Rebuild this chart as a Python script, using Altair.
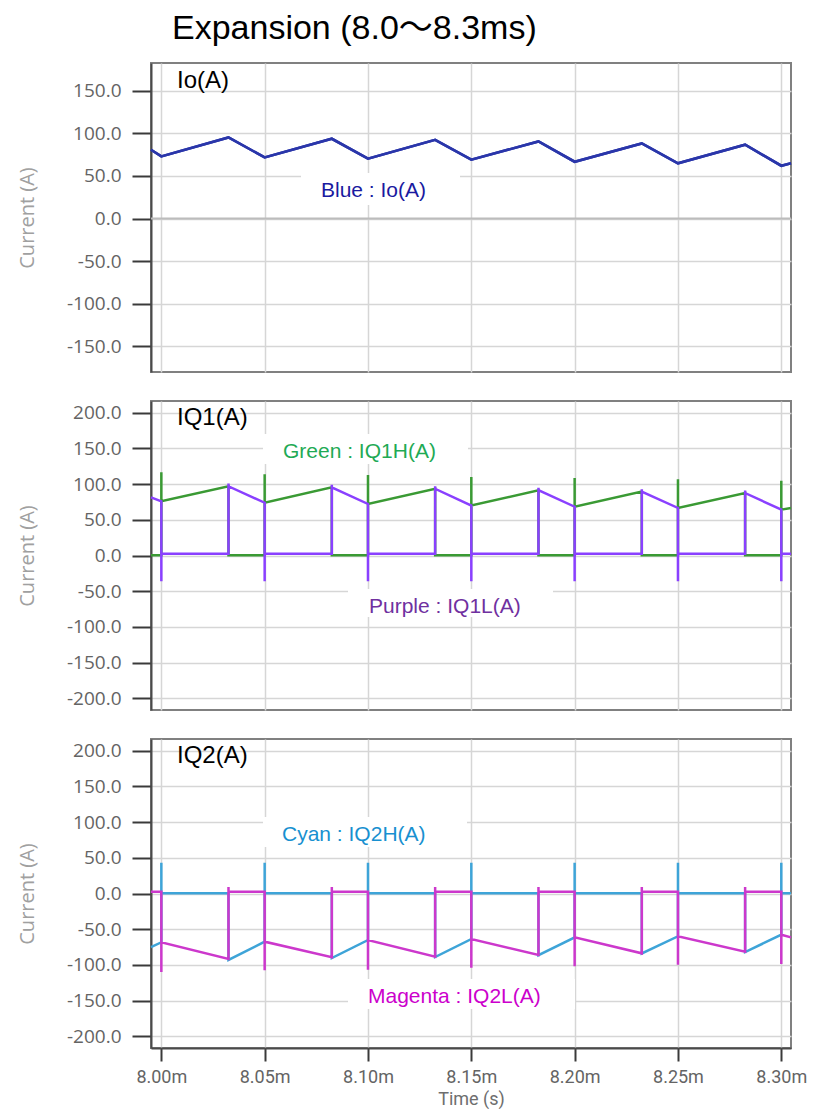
import altair as alt
import pandas as pd

# ---------------- data ----------------
x_ticks = [8.00, 8.05, 8.10, 8.15, 8.20, 8.25, 8.30]
y_ticks_top = [-150, -100, -50, 0, 50, 100, 150]
y_ticks_q = [-200, -150, -100, -50, 0, 50, 100, 150, 200]

# Io (blue), time in ms
io_t = [7.995, 8.000, 8.0325, 8.050, 8.0825, 8.100, 8.1325, 8.150, 8.1825,
        8.200, 8.2325, 8.250, 8.2825, 8.300, 8.3047]
io_v = [80.8, 73.0, 95.2, 71.8, 93.7, 70.3, 92.5, 69.1, 90.5,
        66.7, 88.2, 64.8, 86.7, 62.0, 65.0]

# IQ1H (green)
q1h_t = [7.995, 8.000, 8.000, 8.000, 8.0325, 8.0325,
         8.050, 8.050, 8.050, 8.0825, 8.0825,
         8.100, 8.100, 8.100, 8.1325, 8.1325,
         8.150, 8.150, 8.150, 8.1825, 8.1825,
         8.200, 8.200, 8.200, 8.2325, 8.2325,
         8.250, 8.250, 8.250, 8.2825, 8.2825,
         8.300, 8.300, 8.300, 8.3047]
q1h_v = [0.5, 0.5, 116.5, 76.0, 97.0, 0.5,
         0.5, 114.0, 74.0, 95.5, 0.5,
         0.5, 112.7, 72.2, 93.5, 0.5,
         0.5, 110.0, 70.0, 91.5, 0.5,
         0.5, 108.5, 68.4, 89.5, 0.5,
         0.5, 107.0, 66.6, 87.5, 0.5,
         0.5, 104.7, 64.3, 66.5]

# IQ1L (purple)
q1l_t = [7.995, 8.000, 8.000, 8.000, 8.0325, 8.0325, 8.0325,
         8.050, 8.050, 8.050, 8.0825, 8.0825, 8.0825,
         8.100, 8.100, 8.100, 8.1325, 8.1325, 8.1325,
         8.150, 8.150, 8.150, 8.1825, 8.1825, 8.1825,
         8.200, 8.200, 8.200, 8.2325, 8.2325, 8.2325,
         8.250, 8.250, 8.250, 8.2825, 8.2825, 8.2825,
         8.300, 8.300, 8.300, 8.3047]
q1l_v = [81.5, 76.0, -36.0, 2.5, 2.5, 101.0, 97.0,
         74.0, -36.0, 2.5, 2.5, 99.0, 95.5,
         72.2, -36.0, 2.5, 2.5, 97.0, 93.5,
         70.0, -36.0, 2.5, 2.5, 95.0, 91.5,
         68.4, -36.0, 2.5, 2.5, 93.0, 89.5,
         66.6, -36.0, 2.5, 2.5, 91.0, 87.5,
         64.3, -36.0, 2.5, 2.5]

# IQ2H (cyan)
q2h_t = list(q1h_t)
q2h_v = [-75.0, -68.4, 43.0, 0.5, 0.5, -93.0,
         -67.5, 43.0, 0.5, 0.5, -90.5,
         -65.2, 43.0, 0.5, 0.5, -89.0,
         -63.8, 43.0, 0.5, 0.5, -86.5,
         -61.5, 43.0, 0.5, 0.5, -84.0,
         -60.0, 43.0, 0.5, 0.5, -82.0,
         -57.8, 43.0, 0.5, 0.5]

# IQ2L (magenta)
q2l_t = list(q1l_t)
q2l_v = [2.5, 2.5, -110.0, -68.4, -91.8, 9.0, 2.5,
         2.5, -107.6, -67.5, -89.4, 9.0, 2.5,
         2.5, -107.0, -65.2, -88.5, 9.0, 2.5,
         2.5, -104.0, -63.8, -86.2, 9.0, 2.5,
         2.5, -101.8, -61.5, -83.8, 9.0, 2.5,
         2.5, -100.0, -60.0, -81.5, 9.0, 2.5,
         2.5, -98.7, -57.8, -61.5]

# ---------------- layout / style ----------------
W, H = 640, 309
X_DOMAIN = [7.995, 8.3047]
LABEL_FONT = "Open Sans"
XLABEL_FONT = "Roboto"
TEXT_FONT = "Liberation Sans"
TITLE_FONT = "Liberation Sans, 'Noto Sans CJK JP'"
one = pd.DataFrame({"k": [0]})


def yaxis(ticks):
    return alt.Axis(values=ticks,
                    labelExpr="(datum.value < 0 ? '-' : '') + format(abs(datum.value), '.1f')",
                    title="Current (A)",
                    titleX=-124, titleY=H / 2, titleAngle=270,
                    titleAlign="center", titleBaseline="middle",
                    tickSize=19, tickWidth=2, tickColor="#3a3a3a",
                    labelPadding=11)


xaxis_hidden = alt.Axis(values=x_ticks, labels=False, ticks=False,
                        domain=False, title=None, grid=True)
xaxis_bottom = alt.Axis(values=x_ticks,
                        labelExpr="format(datum.value, '.2f') + 'm'",
                        labelFont=XLABEL_FONT, labelFontSize=18,
                        tickSize=13, tickWidth=2, tickColor="#3a3a3a",
                        labelPadding=7, labelFlush=False,
                        title="Time (s)", titleY=51, titleBaseline="middle",
                        titleFont=XLABEL_FONT, titleFontSize=18,
                        titleColor="#6e6e6e")


def line(t, v, color, width, ydom, yticks, xaxis):
    df = pd.DataFrame({"t": t, "v": v, "i": list(range(len(t)))})
    return alt.Chart(df).mark_line(color=color, strokeWidth=width).encode(
        x=alt.X("t:Q", scale=alt.Scale(domain=X_DOMAIN, nice=False, zero=False), axis=xaxis),
        y=alt.Y("v:Q", scale=alt.Scale(domain=ydom, nice=False, zero=False), axis=yaxis(yticks)),
        order="i:Q",
    )


def box(x1, x2, y1, y2):
    return alt.Chart(one).mark_rect(color="white").encode(
        x=alt.value(x1), x2=alt.value(x2), y=alt.value(y1), y2=alt.value(y2))


def label(text, x, y, color, size, font=TEXT_FONT, baseline="alphabetic"):
    return alt.Chart(one).mark_text(text=text, align="left", baseline=baseline,
                                    fontSize=size, font=font, color=color).encode(
        x=alt.value(x), y=alt.value(y))


dom_top = [-180.3, 182.7]
dom_q = [-216.5, 216.5]

zero_rule = alt.Chart(one).mark_rule(color="#bcbcbc", strokeWidth=2).encode(y=alt.datum(0))

top = alt.layer(
    line(io_t, io_v, "#2a36aa", 2.6, dom_top, y_ticks_top, xaxis_hidden),
    zero_rule,
    box(150, 309, 110, 142),
    line(io_t, io_v, "#2a36aa", 2.6, dom_top, y_ticks_top, xaxis_hidden),
    label("Blue : Io(A)", 170, 134, "#1a1aa0", 21),
    label("Io(A)", 26, 25, "#000000", 24),
    label("Expansion (8.0\uff5e8.3ms)", 21, -51, "#000000", 34,
          font=TITLE_FONT, baseline="top"),
).properties(width=W, height=H)

mid = alt.layer(
    box(112, 317, 33, 63),
    box(197, 402, 188, 216),
    line(q1h_t, q1h_v, "#3a9a34", 2.5, dom_q, y_ticks_q, xaxis_hidden),
    line(q1l_t, q1l_v, "#8a40ff", 2.5, dom_q, y_ticks_q, xaxis_hidden),
    label("Green : IQ1H(A)", 132, 57, "#1faa55", 21),
    label("Purple : IQ1L(A)", 218, 212, "#7030a0", 21),
    label("IQ1(A)", 26, 24, "#000000", 24),
).properties(width=W, height=H)

bot = alt.layer(
    box(112, 316, 78, 108),
    box(197, 424, 240, 270),
    line(q2h_t, q2h_v, "#3ea4d8", 2.5, dom_q, y_ticks_q, xaxis_bottom),
    line(q2l_t, q2l_v, "#cc38cc", 2.5, dom_q, y_ticks_q, xaxis_bottom),
    label("Cyan : IQ2H(A)", 131, 102, "#1890d0", 21),
    label("Magenta : IQ2L(A)", 217, 264, "#cc00cc", 21),
    label("IQ2(A)", 26, 24, "#000000", 24),
).properties(width=W, height=H)

chart = alt.vconcat(top, mid, bot, spacing=27).properties(
    padding={"left": 8, "top": 3, "right": 0, "bottom": 0},
    background="white",
).configure_view(
    stroke="#808080", strokeWidth=2,
).configure_axis(
    labelFont=LABEL_FONT, labelFontSize=19, labelColor="#646464",
    titleFont=LABEL_FONT, titleFontSize=20, titleFontWeight="normal", titleColor="#a0a0a0",
    gridColor="#d6d6d6", gridWidth=1.5,
    domainColor="#4a4a4a", domainWidth=2,
)

chart.save("out.html", embed_options={"renderer": "svg", "actions": False})
